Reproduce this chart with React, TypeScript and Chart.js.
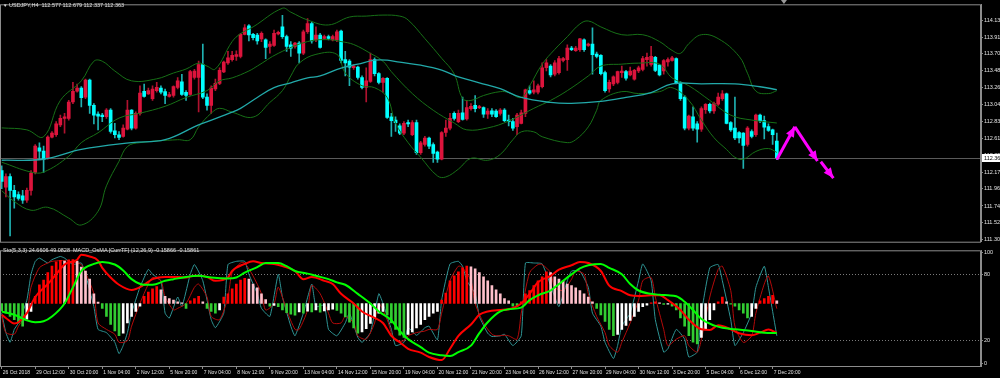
import React, { useEffect, useRef } from 'react';
import { Chart, registerables } from 'chart.js';
Chart.register(...registerables);

// ---------- DATA ----------
const CANDLE_OPEN = [
  112.195, 111.984, 112.119, 111.942, 111.888, 111.871, 111.816, 111.942, 112.174, 112.490,
  112.447, 112.351, 112.628, 112.658, 112.784, 112.868, 112.868, 113.079, 113.218, 113.260,
  113.142, 113.361, 113.037, 112.923, 112.911, 112.890, 112.974, 112.708, 112.658, 112.637,
  112.729, 112.974, 112.742, 112.932, 113.218, 113.184, 113.121, 113.226, 113.260, 113.214,
  113.151, 113.163, 113.268, 113.340, 113.205, 113.176, 113.395, 113.395, 113.563, 113.142,
  113.037, 113.247, 113.319, 113.466, 113.584, 113.626, 113.668, 113.668, 113.950, 114.060,
  113.950, 113.942, 113.892, 113.879, 113.795, 113.807, 113.955, 114.047, 113.921, 113.816,
  113.795, 113.837, 113.710, 113.984, 114.089, 113.879, 113.942, 113.900, 113.921, 113.879,
  113.879, 113.993, 113.626, 113.605, 113.521, 113.529, 113.395, 113.268, 113.344, 113.626,
  113.445, 113.332, 113.386, 112.890, 112.847, 112.772, 112.679, 112.814, 112.658, 112.814,
  112.426, 112.532, 112.616, 112.532, 112.435, 112.342, 112.687, 112.742, 112.932, 112.826,
  112.940, 112.860, 112.995, 113.037, 113.007, 113.007, 112.923, 112.965, 112.961, 112.932,
  112.974, 112.847, 112.826, 112.763, 112.805, 112.932, 113.226, 113.205, 113.205, 113.277,
  113.521, 113.542, 113.437, 113.458, 113.614, 113.626, 113.774, 113.740, 113.753, 113.879,
  113.807, 113.824, 113.698, 113.681, 113.458, 113.247, 113.311, 113.332, 113.458, 113.470,
  113.428, 113.374, 113.479, 113.500, 113.626, 113.563, 113.656, 113.555, 113.479, 113.597,
  113.614, 113.639, 113.319, 113.142, 112.742, 112.890, 112.797, 112.730, 112.982, 113.050,
  112.965, 113.050, 113.121, 113.184, 112.814, 112.742, 112.687, 112.679, 112.532, 112.700,
  112.658, 112.911, 112.839, 112.763, 112.721, 112.577,
];
const CANDLE_HIGH = [
  112.258, 112.153, 112.153, 112.005, 111.921, 111.942, 111.972, 112.195, 112.532, 112.553,
  112.511, 112.645, 112.700, 112.826, 112.911, 112.932, 113.100, 113.332, 113.311, 113.277,
  113.374, 113.374, 113.058, 112.953, 112.932, 112.995, 112.995, 112.805, 112.700, 112.784,
  113.100, 112.982, 112.953, 113.289, 113.311, 113.260, 113.289, 113.332, 113.289, 113.247,
  113.205, 113.289, 113.395, 113.437, 113.226, 113.487, 113.500, 113.605, 113.824, 113.184,
  113.289, 113.374, 113.521, 113.605, 113.731, 113.731, 113.740, 113.963, 114.077, 114.077,
  113.963, 113.963, 113.984, 113.892, 113.858, 114.005, 113.993, 114.195, 113.942, 113.858,
  113.849, 113.858, 114.005, 114.153, 114.110, 114.047, 113.963, 113.942, 113.942, 113.942,
  114.005, 114.005, 113.732, 113.626, 113.563, 113.542, 113.416, 113.521, 113.710, 113.647,
  113.458, 113.395, 113.395, 112.932, 112.890, 112.797, 112.826, 112.847, 112.839, 112.847,
  112.574, 112.637, 112.628, 112.553, 112.447, 112.700, 112.847, 112.932, 112.953, 112.974,
  113.142, 113.100, 113.058, 113.163, 113.037, 113.016, 112.995, 112.995, 112.982, 112.995,
  112.995, 112.911, 112.868, 112.932, 112.974, 113.247, 113.289, 113.353, 113.311, 113.584,
  113.626, 113.563, 113.614, 113.668, 113.656, 113.816, 113.795, 113.795, 113.900, 113.892,
  113.837, 114.035, 113.723, 113.689, 113.479, 113.361, 113.416, 113.479, 113.542, 113.487,
  113.529, 113.500, 113.542, 113.668, 113.710, 113.795, 113.668, 113.563, 113.626, 113.647,
  113.668, 113.647, 113.344, 113.163, 112.911, 113.016, 112.826, 113.016, 113.058, 113.066,
  113.079, 113.193, 113.226, 113.193, 112.826, 113.142, 112.700, 112.687, 112.763, 112.721,
  112.923, 112.923, 112.898, 112.797, 112.730, 112.679,
];
const CANDLE_LOW = [
  111.963, 111.858, 111.353, 111.711, 111.816, 111.774, 111.787, 111.879, 112.153, 112.342,
  112.174, 112.342, 112.616, 112.637, 112.763, 112.679, 112.847, 113.058, 113.205, 113.016,
  113.121, 112.932, 112.797, 112.721, 112.826, 112.868, 112.679, 112.616, 112.595, 112.628,
  112.721, 112.721, 112.729, 112.911, 113.142, 113.176, 113.100, 113.205, 113.184, 113.058,
  113.142, 113.142, 113.247, 113.163, 113.100, 113.163, 113.374, 112.953, 113.121, 112.974,
  112.932, 113.226, 113.302, 113.458, 113.563, 113.605, 113.614, 113.647, 113.942, 113.866,
  113.879, 113.824, 113.858, 113.639, 113.710, 113.795, 113.942, 113.900, 113.732, 113.668,
  113.774, 113.584, 113.689, 113.963, 113.837, 113.858, 113.774, 113.892, 113.879, 113.866,
  113.858, 113.584, 113.416, 113.289, 113.500, 113.374, 113.247, 113.079, 113.332, 113.416,
  113.311, 113.205, 112.868, 112.637, 112.700, 112.658, 112.658, 112.763, 112.645, 112.405,
  112.405, 112.511, 112.477, 112.300, 112.300, 112.334, 112.637, 112.721, 112.847, 112.814,
  112.847, 112.847, 112.974, 112.953, 112.995, 112.881, 112.868, 112.890, 112.881, 112.911,
  112.826, 112.772, 112.713, 112.658, 112.797, 112.890, 113.176, 113.184, 113.184, 113.260,
  113.479, 113.403, 113.416, 113.437, 113.597, 113.487, 113.740, 113.732, 113.732, 113.732,
  113.795, 113.437, 113.647, 113.428, 113.205, 113.205, 113.289, 113.311, 113.395, 113.361,
  113.416, 113.361, 113.458, 113.479, 113.542, 113.542, 113.470, 113.416, 113.437, 113.542,
  113.605, 113.311, 113.100, 112.721, 112.721, 112.713, 112.561, 112.700, 112.932, 112.940,
  112.932, 113.037, 113.100, 112.797, 112.700, 112.595, 112.553, 112.224, 112.511, 112.616,
  112.637, 112.814, 112.603, 112.700, 112.532, 112.337,
];
const CANDLE_CLOSE = [
  112.056, 112.119, 111.942, 111.858, 111.837, 111.816, 111.942, 112.165, 112.511, 112.447,
  112.342, 112.628, 112.679, 112.797, 112.868, 112.890, 113.079, 113.218, 113.260, 113.134,
  113.361, 113.037, 112.911, 112.898, 112.890, 112.974, 112.700, 112.658, 112.624, 112.742,
  112.974, 112.742, 112.932, 113.193, 113.151, 113.226, 113.247, 113.268, 113.205, 113.163,
  113.176, 113.277, 113.353, 113.176, 113.163, 113.470, 113.479, 113.563, 113.142, 113.037,
  113.260, 113.319, 113.487, 113.593, 113.647, 113.681, 113.689, 113.950, 114.035, 113.942,
  113.908, 113.866, 113.963, 113.782, 113.824, 113.963, 113.976, 113.921, 113.795, 113.774,
  113.837, 113.710, 113.984, 114.089, 113.866, 113.942, 113.782, 113.921, 113.900, 113.921,
  113.984, 113.614, 113.584, 113.529, 113.542, 113.395, 113.268, 113.353, 113.626, 113.445,
  113.332, 113.386, 112.881, 112.839, 112.814, 112.679, 112.805, 112.797, 112.814, 112.426,
  112.553, 112.616, 112.511, 112.418, 112.342, 112.687, 112.742, 112.868, 112.868, 112.932,
  112.856, 113.007, 113.024, 112.995, 113.016, 112.923, 112.961, 112.923, 112.890, 112.974,
  112.839, 112.826, 112.742, 112.911, 112.940, 113.235, 113.193, 113.235, 113.289, 113.521,
  113.584, 113.428, 113.584, 113.639, 113.639, 113.774, 113.753, 113.774, 113.892, 113.753,
  113.824, 113.689, 113.668, 113.445, 113.226, 113.332, 113.403, 113.470, 113.479, 113.386,
  113.479, 113.487, 113.521, 113.639, 113.656, 113.668, 113.487, 113.428, 113.614, 113.626,
  113.647, 113.319, 113.121, 112.742, 112.898, 112.742, 112.730, 112.995, 113.050, 112.965,
  113.058, 113.142, 113.184, 112.805, 112.721, 112.616, 112.616, 112.519, 112.742, 112.637,
  112.911, 112.839, 112.755, 112.713, 112.658, 112.363,
];

// Bollinger bands (20) and slow moving average: [bar, price]
const BB_UPPER = [[0,112.746],[6,112.721],[10,112.632],[14,113.100],[19,113.352],[22,113.605],[24,113.605],[27,113.479],[31,113.352],[37,113.378],[41,113.453],[44,113.504],[47,113.580],[49,113.542],[51,113.504],[55,113.858],[57,113.959],[60,114.047],[67,114.287],[69,114.237],[73,114.136],[78,114.072],[83,114.174],[87,114.186],[91,114.199],[95,114.186],[97,114.136],[101,113.896],[105,113.643],[108,113.441],[110,113.125],[112,113.100],[115,113.163],[119,113.213],[121,113.201],[124,113.138],[126,113.289],[129,113.567],[132,113.757],[135,113.921],[138,114.085],[140,114.123],[143,114.047],[148,113.946],[153,113.946],[157,113.858],[160,113.744],[162,113.706],[164,113.832],[167,113.946],[171,113.896],[176,113.668],[178,113.450],[180,113.220],[183,113.188],[185,113.226]];
const BB_MIDDLE = [[0,112.304],[7,112.177],[10,112.177],[16,112.380],[19,112.556],[23,112.683],[28,112.872],[33,112.935],[39,113.024],[44,113.138],[49,113.226],[52,113.352],[55,113.390],[59,113.479],[61,113.542],[66,113.706],[73,113.858],[78,113.883],[81,113.858],[84,113.820],[88,113.706],[91,113.605],[93,113.470],[98,113.188],[103,112.973],[108,112.809],[111,112.721],[116,112.746],[121,112.834],[127,112.998],[131,113.100],[135,113.226],[140,113.415],[143,113.542],[148,113.567],[152,113.580],[157,113.567],[160,113.390],[164,113.289],[169,113.100],[174,112.910],[179,112.847],[185,112.809]];
const BB_LOWER = [[0,111.937],[3,111.798],[7,111.685],[11,111.723],[16,111.584],[19,111.495],[23,111.672],[25,112.000],[28,112.316],[30,112.506],[33,112.556],[42,112.594],[45,112.594],[47,112.759],[50,112.935],[52,112.998],[55,112.948],[60,112.885],[64,113.074],[67,113.226],[69,113.415],[71,113.580],[75,113.693],[80,113.693],[82,113.453],[86,113.289],[89,113.264],[92,113.138],[94,112.809],[97,112.556],[100,112.367],[104,112.127],[106,112.114],[109,112.215],[112,112.354],[116,112.329],[119,112.405],[122,112.594],[124,112.695],[127,112.695],[129,112.632],[135,112.556],[137,112.594],[140,112.759],[142,112.973],[143,113.100],[148,113.213],[152,113.188],[157,113.213],[160,113.264],[164,113.100],[167,112.847],[170,112.620],[173,112.468],[175,112.367],[177,112.342],[180,112.443],[183,112.480],[185,112.430]];
const MA_SLOW = [[0,112.329],[10,112.342],[19,112.468],[31,112.556],[39,112.594],[47,112.784],[55,112.948],[57,112.998],[61,113.138],[65,113.264],[69,113.327],[73,113.390],[76,113.415],[81,113.517],[85,113.567],[89,113.618],[92,113.618],[95,113.592],[100,113.554],[105,113.491],[109,113.403],[114,113.327],[119,113.251],[124,113.138],[131,113.074],[136,113.062],[143,113.087],[149,113.138],[155,113.201],[160,113.314],[167,113.314],[175,113.314],[181,113.276],[185,113.239]];

// hand-drawn forecast arrows: [fromBar, fromPrice, toBar, toPrice]
const FORECAST_ARROWS = [
  [185, 112.34, 189.3, 112.76],
  [189.3, 112.76, 194.7, 112.32],
  [195.5, 112.31, 198.5, 112.10],
];
const SHIFT_MARKER_BAR = 186.7;

const PRICE_TICKS = [114.135, 113.915, 113.700, 113.480, 113.265, 113.045, 112.830, 112.610, 112.395, 112.175, 111.960, 111.740, 111.525, 111.305];

// ---------- indicator window ----------
const STOCH_MAIN = [[0,45.0],[1,27.5],[2,18.7],[3,30.4],[4,36.2],[6,56.7],[7,80.1],[8,91.8],[9,94.7],[11,90.3],[12,93.3],[14,96.2],[15,94.7],[17,88.9],[19,90.3],[20,80.1],[22,50.9],[23,30.4],[25,27.5],[27,18.7],[28,8.5],[29,15.8],[30,27.5],[31,45.0],[33,68.4],[35,84.5],[36,80.1],[38,74.3],[39,45.0],[40,40.6],[42,59.6],[43,50.9],[45,80.1],[46,88.9],[48,74.3],[50,39.2],[51,31.9],[53,45.0],[54,88.9],[56,91.8],[58,91.8],[59,80.1],[61,62.6],[62,49.4],[64,42.1],[66,80.1],[67,59.6],[69,33.3],[70,24.6],[72,45.0],[74,71.3],[75,50.9],[77,52.3],[78,30.4],[80,24.6],[82,36.2],[83,45.0],[85,23.1],[86,18.7],[88,27.5],[90,62.6],[91,53.8],[93,30.4],[94,15.8],[96,18.7],[97,31.9],[99,25.1],[101,31.9],[102,33.3],[104,21.0],[105,56.7],[107,89.5],[109,91.8],[110,87.4],[111,74.3],[113,62.6],[114,42.1],[116,26.9],[117,24.0],[119,24.6],[120,26.0],[122,15.8],[124,24.6],[125,90.3],[127,90.3],[129,89.5],[132,59.6],[133,50.9],[135,74.3],[136,83.0],[138,83.0],[140,68.4],[141,45.0],[143,33.3],[144,18.7],[146,4.1],[147,15.8],[148,33.3],[150,45.0],[152,74.3],[153,89.5],[155,74.3],[156,39.2],[158,9.9],[159,12.9],[161,30.4],[163,21.6],[164,5.5],[166,9.9],[167,45.0],[169,86.0],[171,88.9],[172,74.3],[174,39.2],[175,15.8],[177,27.5],[179,45.0],[180,68.4],[182,87.4],[183,68.4],[185,24.66]];
const STOCH_SIGNAL = [[0,42.1],[1,27.5],[3,26.0],[4,33.3],[6,45.0],[7,68.4],[9,86.0],[11,90.3],[12,91.8],[14,92.4],[15,92.4],[17,91.2],[19,88.9],[20,81.6],[22,62.6],[23,36.2],[25,30.4],[27,26.0],[28,18.7],[30,20.2],[31,33.3],[33,53.8],[35,71.3],[36,77.2],[38,74.3],[39,59.6],[41,47.9],[42,49.4],[44,53.8],[46,68.4],[47,71.3],[49,59.6],[50,42.1],[52,39.2],[54,59.6],[55,81.6],[57,90.3],[58,90.3],[60,78.6],[62,62.6],[63,47.9],[65,53.8],[66,68.4],[68,47.9],[70,30.4],[71,30.4],[73,47.9],[74,69.9],[76,62.6],[78,45.0],[79,36.2],[81,36.2],[82,42.1],[84,36.2],[85,24.6],[87,21.6],[89,36.2],[90,53.8],[92,39.2],[93,27.5],[94,20.2],[96,20.2],[97,24.6],[99,27.5],[101,28.9],[102,30.4],[104,30.4],[105,45.0],[107,74.3],[109,87.4],[110,86.0],[112,74.3],[113,53.8],[115,36.2],[117,26.0],[118,24.6],[120,25.1],[121,24.6],[123,21.6],[124,45.0],[126,81.6],[128,88.9],[129,88.9],[131,81.6],[132,68.4],[134,65.5],[136,75.7],[137,83.0],[139,80.1],[140,62.6],[142,42.1],[144,27.5],[145,15.8],[147,9.9],[148,18.7],[150,36.2],[152,56.7],[153,74.3],[155,77.2],[156,59.6],[158,30.4],[159,15.8],[161,21.6],[163,24.6],[164,15.8],[166,9.9],[167,21.6],[169,59.6],[171,84.5],[172,87.4],[174,65.5],[175,33.3],[177,18.7],[179,24.6],[180,45.0],[182,71.3],[183,78.6],[185,49.08]];
const MACD_MAIN = [[0,-0.061],[1,-0.078],[3,-0.108],[4,-0.101],[6,-0.052],[8,0.035],[11,0.105],[13,0.157],[15,0.210],[18,0.236],[19,0.262],[21,0.253],[23,0.231],[24,0.192],[26,0.140],[28,0.101],[31,0.073],[34,0.101],[36,0.131],[39,0.143],[42,0.143],[44,0.140],[46,0.149],[49,0.143],[51,0.122],[54,0.140],[55,0.175],[58,0.213],[60,0.227],[62,0.218],[65,0.213],[67,0.201],[70,0.175],[72,0.131],[74,0.143],[77,0.122],[79,0.105],[81,0.052],[84,0.000],[86,-0.043],[89,-0.078],[91,-0.105],[93,-0.174],[95,-0.209],[97,-0.244],[100,-0.265],[102,-0.288],[105,-0.305],[107,-0.244],[109,-0.174],[112,-0.113],[114,-0.061],[116,-0.043],[119,-0.035],[121,-0.031],[124,0.000],[126,0.052],[128,0.114],[131,0.149],[133,0.183],[136,0.206],[138,0.224],[140,0.218],[143,0.175],[145,0.096],[148,0.067],[150,0.044],[152,0.040],[155,0.044],[157,0.044],[159,0.018],[162,-0.035],[164,-0.087],[167,-0.139],[169,-0.143],[171,-0.117],[174,-0.139],[176,-0.160],[179,-0.171],[181,-0.157],[183,-0.140],[185,-0.1587]];
const MACD_SIGNAL = [[0,-0.043],[3,-0.061],[6,-0.091],[8,-0.101],[10,-0.096],[12,-0.070],[15,0.000],[17,0.087],[19,0.175],[22,0.213],[24,0.224],[27,0.210],[29,0.178],[31,0.131],[34,0.101],[36,0.101],[39,0.122],[41,0.131],[44,0.143],[47,0.149],[50,0.140],[54,0.135],[56,0.140],[58,0.166],[61,0.196],[63,0.218],[66,0.218],[68,0.201],[70,0.175],[73,0.161],[75,0.149],[78,0.131],[80,0.114],[82,0.101],[85,0.052],[88,0.000],[90,-0.043],[93,-0.090],[95,-0.148],[97,-0.192],[100,-0.235],[102,-0.265],[105,-0.279],[107,-0.283],[109,-0.262],[112,-0.227],[114,-0.160],[116,-0.101],[119,-0.043],[121,-0.031],[124,-0.022],[126,0.018],[128,0.044],[131,0.070],[133,0.105],[136,0.157],[138,0.189],[140,0.206],[143,0.213],[145,0.192],[148,0.157],[150,0.105],[152,0.070],[155,0.052],[157,0.047],[159,0.044],[161,0.039],[163,0.009],[165,-0.035],[167,-0.084],[170,-0.118],[172,-0.131],[175,-0.139],[179,-0.148],[182,-0.157],[185,-0.1586]];
const OSMA_HIST = [
  -0.040,-0.052,-0.070,-0.087,-0.105,-0.122,-0.084,-0.043,0.039,0.101,
  0.126,0.166,0.201,0.224,0.233,0.229,0.235,0.237,0.228,0.196,
  0.175,0.131,0.052,0.008,-0.026,-0.070,-0.113,-0.148,-0.174,-0.160,
  -0.105,-0.070,-0.043,-0.014,0.039,0.061,0.079,0.091,0.073,0.039,
  0.026,0.018,0.009,0.004,-0.026,0.014,0.026,0.039,0.009,-0.026,
  -0.043,-0.052,-0.035,0.035,0.052,0.079,0.105,0.126,0.135,0.131,
  0.105,0.084,0.052,0.021,-0.014,-0.010,-0.017,-0.035,-0.049,-0.057,
  -0.063,-0.045,-0.052,-0.042,-0.045,-0.035,-0.047,-0.040,-0.035,-0.031,
  -0.038,-0.052,-0.073,-0.101,-0.131,-0.160,-0.153,-0.136,-0.108,-0.078,
  -0.052,-0.043,-0.061,-0.105,-0.139,-0.171,-0.183,-0.166,-0.153,-0.131,
  -0.113,-0.087,-0.070,-0.052,-0.043,0.018,0.056,0.122,0.149,0.171,
  0.192,0.201,0.197,0.187,0.166,0.143,0.122,0.096,0.073,0.052,
  0.026,0.014,-0.014,-0.016,0.009,0.052,0.070,0.096,0.122,0.143,
  0.171,0.166,0.143,0.131,0.122,0.105,0.096,0.084,0.070,0.052,
  0.035,0.009,-0.026,-0.061,-0.096,-0.139,-0.174,-0.166,-0.139,-0.118,
  -0.091,-0.070,-0.043,-0.017,-0.009,0.003,0.009,0.003,-0.005,-0.003,
  -0.014,-0.035,-0.078,-0.122,-0.174,-0.209,-0.218,-0.183,-0.139,-0.087,
  -0.035,0.009,0.035,0.009,-0.003,-0.014,-0.035,-0.052,-0.078,-0.070,
  -0.026,0.014,0.026,0.039,0.044,0.014,
];
const STOCH_LEVELS = [20, 80];
const STOCH_TICKS = [0, 20, 80, 100];

const DATE_LABELS = ['26 Oct 2018','29 Oct 12:00','30 Oct 20:00','1 Nov 04:00','2 Nov 12:00','5 Nov 20:00','7 Nov 04:00','8 Nov 12:00','9 Nov 20:00','13 Nov 04:00','14 Nov 12:00','15 Nov 20:00','19 Nov 04:00','20 Nov 12:00','21 Nov 20:00','23 Nov 04:00','26 Nov 12:00','27 Nov 20:00','29 Nov 04:00','30 Nov 12:00','3 Dec 20:00','5 Dec 04:00','6 Dec 12:00','7 Dec 20:00'];
const DATE_BARS = [0,8,16,24,32,40,48,56,64,72,80,88,96,104,112,120,128,136,144,152,160,168,176,184];

const MAIN_TITLE = 'USDJPY,H4  112.577 112.679 112.337 112.363';
const SUB_TITLE = 'Sto(5,3,3) 24.6606 49.0828  MACD_OsMA [CurrTF] (12,26,9) -0.15866 -0.15861';

// ---------- layout / style ----------
const X_MIN = -0.406;
const X_MAX = 233.73;
const FONT_FAMILY = "'Liberation Sans', Arial, sans-serif";
const TXT = '#e0e0e0';
const FRAME = '#8c8c8c';
const BULL_BODY = '#DC143C';
const BEAR_BODY = '#00FFFF';
const BULL_WICK = '#B0122F';
const BEAR_WICK = '#1FB0B0';

const toXY = (pairs: number[][]) => pairs.map(([x, y]) => ({ x, y }));

export default function App() {
  const mainRef = useRef<HTMLCanvasElement>(null);
  const indRef = useRef<HTMLCanvasElement>(null);

  useEffect(() => {
    document.body.style.margin = '0';
    document.body.style.background = '#000';
    const n = CANDLE_CLOSE.length;
    const bars = Array.from({ length: n }, (_, i) => i);
    const bull = bars.map((i) => CANDLE_CLOSE[i] >= CANDLE_OPEN[i]);

    const framePlugin = {
      id: 'frame',
      afterDraw(chart: any) {
        const { ctx, chartArea: a } = chart;
        ctx.save();
        ctx.strokeStyle = FRAME;
        ctx.lineWidth = 1;
        ctx.strokeRect(a.left + 0.5, a.top + 0.5, a.right - a.left - 1, a.bottom - a.top);
        ctx.restore();
      },
    };

    const mainPlugin = {
      id: 'mainDecor',
      beforeDatasetsDraw(chart: any) {
        const { ctx, chartArea: a, scales } = chart;
        const y = Math.round(scales.y.getPixelForValue(CANDLE_CLOSE[n - 1])) + 0.5;
        ctx.save();
        ctx.strokeStyle = '#5a5a5a';
        ctx.lineWidth = 1;
        ctx.beginPath();
        ctx.moveTo(a.left, y);
        ctx.lineTo(a.right, y);
        ctx.stroke();
        ctx.restore();
      },
      afterDatasetsDraw(chart: any) {
        const { ctx, scales } = chart;
        ctx.save();
        ctx.fillStyle = '#FF00FF';
        FORECAST_ARROWS.forEach(([x1, y1, x2, y2]) => {
          const px1 = scales.x.getPixelForValue(x1);
          const py1 = scales.y.getPixelForValue(y1);
          const px2 = scales.x.getPixelForValue(x2);
          const py2 = scales.y.getPixelForValue(y2);
          const ang = Math.atan2(py2 - py1, px2 - px1);
          const len = 10, half = 4.5;
          const bx = px2 - len * Math.cos(ang), by = py2 - len * Math.sin(ang);
          ctx.beginPath();
          ctx.moveTo(px2, py2);
          ctx.lineTo(bx + half * Math.sin(ang), by - half * Math.cos(ang));
          ctx.lineTo(bx - half * Math.sin(ang), by + half * Math.cos(ang));
          ctx.closePath();
          ctx.fill();
        });
        // chart shift marker
        const sx = scales.x.getPixelForValue(SHIFT_MARKER_BAR);
        ctx.fillStyle = '#9a9a9a';
        ctx.beginPath();
        ctx.moveTo(sx - 3, 0);
        ctx.lineTo(sx + 3, 0);
        ctx.lineTo(sx, 4);
        ctx.closePath();
        ctx.fill();
        ctx.restore();
      },
      afterDraw(chart: any) {
        const { ctx, chartArea: a, scales } = chart;
        const last = CANDLE_CLOSE[n - 1];
        const y = scales.y.getPixelForValue(last);
        ctx.save();
        ctx.fillStyle = '#ffffff';
        ctx.fillRect(a.right + 1, Math.round(y) - 4, 30, 8);
        ctx.fillStyle = '#000000';
        ctx.font = `5.5px ${FONT_FAMILY}`;
        ctx.textBaseline = 'middle';
        ctx.textAlign = 'left';
        ctx.fillText(last.toFixed(3), a.right + 3, Math.round(y));
        ctx.restore();
      },
    };

    const main = new Chart(mainRef.current as HTMLCanvasElement, {
      type: 'bar',
      data: {
        datasets: [
          ...FORECAST_ARROWS.map(([x1, y1, x2, y2]) => ({
            type: 'line' as const,
            data: [{ x: x1, y: y1 }, { x: x2, y: y2 }],
            borderColor: '#FF00FF',
            borderWidth: 3,
            pointRadius: 0,
            order: 0,
          })),
          { type: 'line' as const, data: toXY(MA_SLOW), borderColor: '#22A9A9', borderWidth: 1.3, pointRadius: 0, tension: 0.4, order: 1 },
          { type: 'line' as const, data: toXY(BB_UPPER), borderColor: '#177017', borderWidth: 1, pointRadius: 0, tension: 0.4, order: 2 },
          { type: 'line' as const, data: toXY(BB_MIDDLE), borderColor: '#177017', borderWidth: 1, pointRadius: 0, tension: 0.4, order: 2 },
          { type: 'line' as const, data: toXY(BB_LOWER), borderColor: '#177017', borderWidth: 1, pointRadius: 0, tension: 0.4, order: 2 },
          {
            type: 'bar' as const,
            data: bars.map((i) => ({ x: i, y: [Math.min(CANDLE_OPEN[i], CANDLE_CLOSE[i]), Math.max(CANDLE_OPEN[i], CANDLE_CLOSE[i])] })),
            backgroundColor: bars.map((i) => (bull[i] ? BULL_BODY : BEAR_BODY)),
            barThickness: 3,
            minBarLength: 1,
            grouped: false,
            order: 3,
          },
          {
            type: 'bar' as const,
            data: bars.map((i) => ({ x: i, y: [CANDLE_LOW[i], CANDLE_HIGH[i]] })),
            backgroundColor: bars.map((i) => (bull[i] ? BULL_WICK : BEAR_WICK)),
            barThickness: 1,
            grouped: false,
            order: 4,
          },
        ] as any,
      },
      options: {
        responsive: false,
        maintainAspectRatio: false,
        animation: false,
        events: [],
        layout: { padding: { left: 0, right: 0, top: 2, bottom: 2 } },
        plugins: { legend: { display: false }, tooltip: { enabled: false } },
        scales: {
          x: { type: 'linear', min: X_MIN, max: X_MAX, offset: false, display: false, grid: { offset: false } },
          y: {
            type: 'linear',
            position: 'right',
            min: 111.280,
            max: 114.338,
            afterFit(s: any) { s.width = 19; },
            afterBuildTicks(s: any) { s.ticks = PRICE_TICKS.map((v) => ({ value: v })); },
            ticks: { autoSkip: false, padding: 1, color: TXT, font: { family: FONT_FAMILY, size: 5.5 }, callback: (v: any) => Number(v).toFixed(3) },
            grid: { drawOnChartArea: false, tickLength: 2, color: FRAME },
            border: { color: FRAME },
          },
        } as any,
      },
      plugins: [mainPlugin, framePlugin],
    });

    const histColors = OSMA_HIST.map((v, i) => {
      const prev = i > 0 ? OSMA_HIST[i - 1] : v;
      if (v >= 0) return v >= prev ? '#FF0000' : '#FFC0CB';
      return v < prev || i === 0 ? '#32CD32' : '#FFFFFF';
    });

    const ind = new Chart(indRef.current as HTMLCanvasElement, {
      type: 'bar',
      data: {
        datasets: [
          { type: 'line' as const, data: toXY(MACD_SIGNAL), yAxisID: 'yM', borderColor: '#00FF00', borderWidth: 2, pointRadius: 0, cubicInterpolationMode: 'monotone', order: 0 },
          { type: 'line' as const, data: toXY(MACD_MAIN), yAxisID: 'yM', borderColor: '#FF0000', borderWidth: 2, pointRadius: 0, cubicInterpolationMode: 'monotone', order: 1 },
          { type: 'bar' as const, data: OSMA_HIST.map((v, i) => ({ x: i, y: v })), yAxisID: 'yM', backgroundColor: histColors, barThickness: 2, grouped: false, order: 2 },
          { type: 'line' as const, data: toXY(STOCH_SIGNAL), yAxisID: 'yS', borderColor: '#B40A0A', borderWidth: 1, pointRadius: 0, tension: 0.25, order: 3 },
          { type: 'line' as const, data: toXY(STOCH_MAIN), yAxisID: 'yS', borderColor: '#2E9494', borderWidth: 1, pointRadius: 0, tension: 0.15, order: 4 },
        ] as any,
      },
      options: {
        responsive: false,
        maintainAspectRatio: false,
        animation: false,
        events: [],
        layout: { padding: { left: 0, right: 0, top: 1, bottom: 0 } },
        plugins: { legend: { display: false }, tooltip: { enabled: false } },
        scales: {
          x: {
            type: 'linear',
            min: X_MIN,
            max: X_MAX,
            offset: false,
            position: 'bottom',
            afterFit(s: any) { s.height = 12; },
            afterBuildTicks(s: any) { s.ticks = DATE_BARS.map((v) => ({ value: v })); },
            ticks: {
              autoSkip: false,
              maxRotation: 0,
              minRotation: 0,
              align: 'start',
              labelOffset: 1,
              padding: 1,
              color: TXT,
              font: { family: FONT_FAMILY, size: 5 },
              callback: (_v: any, idx: number) => DATE_LABELS[idx],
            },
            grid: { drawOnChartArea: false, tickLength: 3, color: FRAME, offset: false },
            border: { color: FRAME },
          },
          yS: {
            type: 'linear',
            position: 'right',
            min: -2.63,
            max: 101.75,
            afterFit(s: any) { s.width = 19; },
            afterBuildTicks(s: any) { s.ticks = STOCH_TICKS.map((v) => ({ value: v })); },
            ticks: { autoSkip: false, padding: 1, color: TXT, font: { family: FONT_FAMILY, size: 5.5 } },
            grid: {
              tickLength: 2,
              tickColor: FRAME,
              color: (c: any) => (c.tick && STOCH_LEVELS.includes(c.tick.value) ? '#7a7a7a' : 'rgba(0,0,0,0)'),
            },
            border: { color: FRAME, dash: [1, 2] },
          },
          yM: { type: 'linear', display: false, min: -0.3367, max: 0.2865 },
        } as any,
      },
      plugins: [framePlugin],
    });

    return () => {
      main.destroy();
      ind.destroy();
    };
  }, []);

  const textStyle: React.CSSProperties = {
    position: 'absolute',
    fontFamily: FONT_FAMILY,
    fontSize: '5.5px',
    lineHeight: '7px',
    color: TXT,
    whiteSpace: 'pre',
  };

  return (
    <div style={{ position: 'relative', width: 1000, height: 378, background: '#000', overflow: 'hidden' }}>
      <canvas ref={mainRef} width={1000} height={246} style={{ position: 'absolute', left: 0, top: 0, display: 'block' }} />
      <canvas ref={indRef} width={1000} height={132} style={{ position: 'absolute', left: 0, top: 246, display: 'block' }} />
      <div style={{ ...textStyle, left: 3, top: 2 }}>
        <span style={{ fontSize: '4.5px' }}>▼</span> {MAIN_TITLE}
      </div>
      <div style={{ ...textStyle, left: 3, top: 247 }}>{SUB_TITLE}</div>
    </div>
  );
}
